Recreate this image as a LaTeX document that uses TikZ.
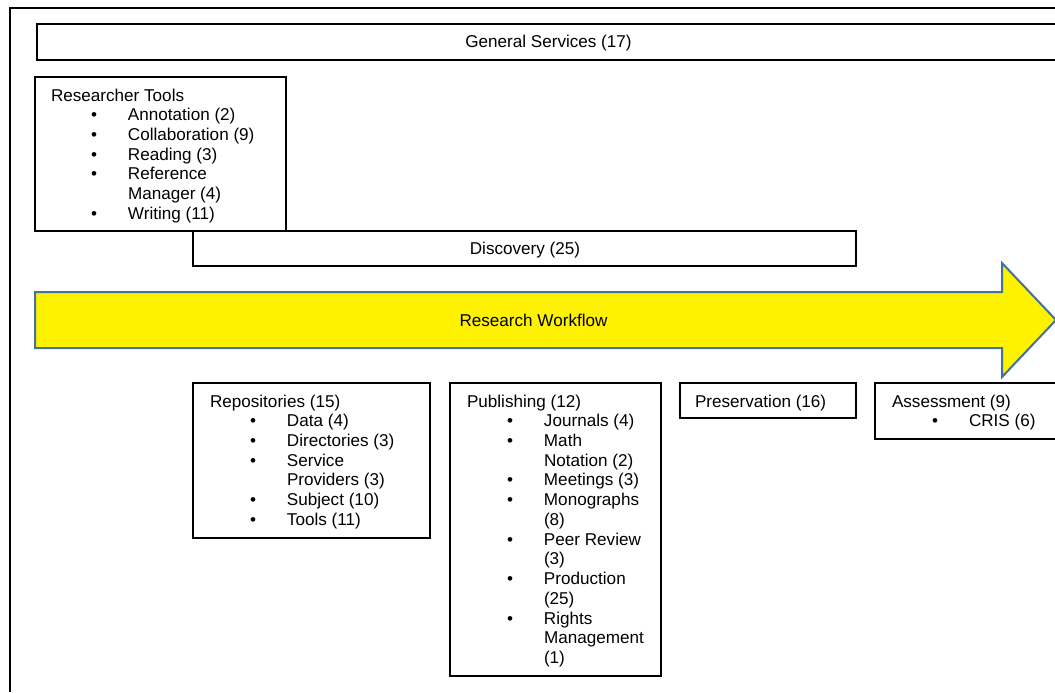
\documentclass[tikz,border=0pt]{standalone}
\usepackage{fontspec}
\setmainfont{Liberation Sans}
\definecolor{arrowblue}{HTML}{41719C}
\newcommand\bx[1]{\hspace*{30pt}\makebox[27.75pt][l]{•}#1}
\newcommand\cx[1]{\hspace*{57.75pt}#1}
\newcommand\lst[1]{\begin{tabular}[t]{@{}l@{}}#1\end{tabular}}
\begin{document}
\begin{tikzpicture}[x=0.75pt,y=-0.75pt,
  font=\fontsize{12.83}{14.81}\selectfont,
  box/.style={draw=black, line width=1.1pt, rectangle, inner sep=0, outer sep=0},
  txt/.style={inner sep=0, outer sep=0, anchor=base west},
  ctxt/.style={inner sep=0, outer sep=0, anchor=base}]
\useasboundingbox (0,0) rectangle (1055,692);
\fill[white] (0,0) rectangle (1055,692);
% page frame
\coordinate (fa) at (10,692);
\coordinate (fb) at (10,8);
\coordinate (fc) at (1060,8);
\draw[line width=1.1pt] (fa) -- (fb) -- (fc);

% general services
\node[box, minimum width=767.25pt, minimum height=27pt] (gs) at (548.5,42) {};
\node[ctxt] (gst) at (548.5,48) {General Services (17)};

% researcher tools
\node[box, minimum width=188.25pt, minimum height=115.5pt] (rt) at (160.5,154) {};
\node[txt] (rtt) at (51,101) {\lst{Researcher Tools\\
\bx{Annotation (2)}\\
\bx{Collaboration (9)}\\
\bx{Reading (3)}\\
\bx{Reference}\\
\cx{Manager (4)}\\
\bx{Writing (11)}}};

% discovery
\node[box, minimum width=497.25pt, minimum height=26.25pt] (disc) at (524.5,248.5) {};
\node[ctxt] (disct) at (525,254.5) {Discovery (25)};

% research workflow arrow
\draw[fill=yellow, draw=arrowblue, line width=1.5pt, line join=miter]
  (35,292) -- (1002,292) -- (1002,263) -- (1056,320) -- (1002,377) -- (1002,348) -- (35,348) -- cycle;
\node[inner sep=0] (rw) at (533.5,320) {Research Workflow};

% repositories
\node[box, minimum width=177.75pt, minimum height=116.25pt] (repo) at (311.5,460.5) {};
\node[txt] (repot) at (210,407) {\lst{Repositories (15)\\
\bx{Data (4)}\\
\bx{Directories (3)}\\
\bx{Service}\\
\cx{Providers (3)}\\
\bx{Subject (10)}\\
\bx{Tools (11)}}};

% publishing
\node[box, minimum width=158.25pt, minimum height=219.75pt] (pub) at (555.5,529.5) {};
\node[txt] (pubt) at (467,407) {\lst{Publishing (12)\\
\bx{Journals (4)}\\
\bx{Math}\\
\cx{Notation (2)}\\
\bx{Meetings (3)}\\
\bx{Monographs}\\
\cx{(8)}\\
\bx{Peer Review}\\
\cx{(3)}\\
\bx{Production}\\
\cx{(25)}\\
\bx{Rights}\\
\cx{Management}\\
\cx{(1)}}};

% preservation
\node[box, minimum width=132pt, minimum height=26.25pt] (pres) at (768,400.5) {};
\node[txt] (prest) at (695,407) {Preservation (16)};

% assessment
\node[box, minimum width=150pt, minimum height=42pt] (ass) at (975,411) {};
\node[txt] (asst) at (892,407) {\lst{Assessment (9)\\
\bx{CRIS (6)}}};
\end{tikzpicture}
\end{document}
